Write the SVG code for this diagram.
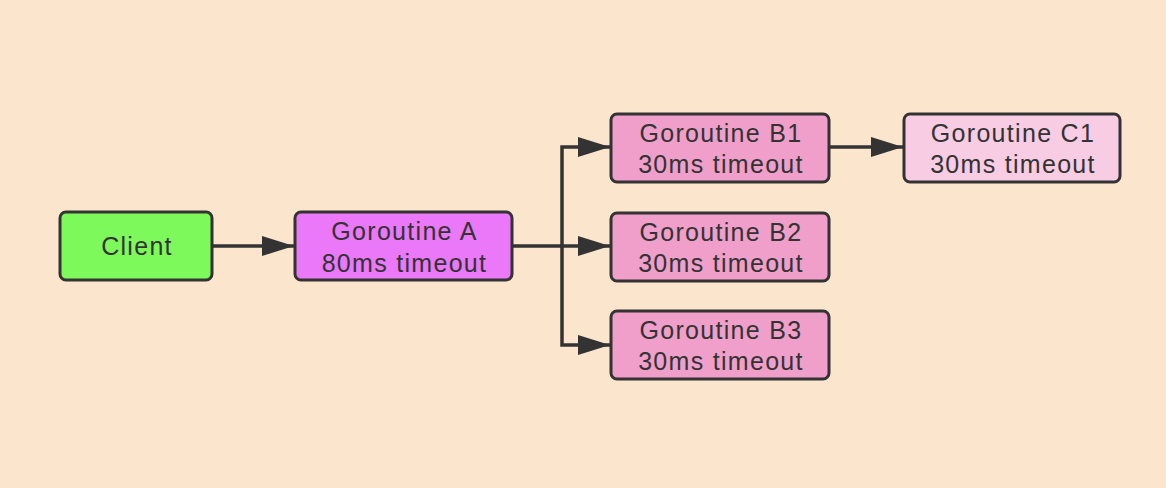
<svg xmlns="http://www.w3.org/2000/svg" width="1166" height="488" viewBox="0 0 1166 488">
<defs>
<style>
.box{stroke:#333;stroke-width:3}
.t{font-family:"Liberation Sans",Arial,sans-serif;font-size:25px;letter-spacing:1.3px;fill:#333;text-anchor:middle}
.c{fill:none;stroke:#333;stroke-width:3.5}
</style>
<marker id="ah" markerWidth="32" markerHeight="20" refX="32" refY="10" orient="auto" markerUnits="userSpaceOnUse">
<path d="M0,0 L32,10 L0,20 Z" fill="#333"/>
</marker>
</defs>
<rect width="1166" height="488" fill="#fbe5cd"/>
<g id="connectors">
<line class="c" x1="212" y1="246" x2="294" y2="246" marker-end="url(#ah)"/>
<polyline class="c" points="512,246 562,246 562,147 610,147" marker-end="url(#ah)"/>
<polyline class="c" points="562,246 610,246" marker-end="url(#ah)"/>
<polyline class="c" points="562,246 562,345 610,345" marker-end="url(#ah)"/>
<line class="c" x1="829" y1="147" x2="903" y2="147" marker-end="url(#ah)"/>
</g>
<g id="client">
<rect class="box" x="60" y="212" width="152" height="68" rx="6" fill="#7ef95c"/>
<text class="t" x="137" y="255">Client</text>
</g>
<g id="goroutineA">
<rect class="box" x="295" y="212" width="217" height="68" rx="6" fill="#ea78f8"/>
<text class="t" x="404.5" y="240">Goroutine A</text>
<text class="t" x="404.5" y="272">80ms timeout</text>
</g>
<g id="goroutineB1">
<rect class="box" x="611" y="114" width="218" height="68" rx="6" fill="#f09fca"/>
<text class="t" x="721" y="142">Goroutine B1</text>
<text class="t" x="721" y="173">30ms timeout</text>
</g>
<g id="goroutineB2">
<rect class="box" x="611" y="213" width="218" height="68" rx="6" fill="#f09fca"/>
<text class="t" x="721" y="241">Goroutine B2</text>
<text class="t" x="721" y="272">30ms timeout</text>
</g>
<g id="goroutineB3">
<rect class="box" x="611" y="311" width="218" height="68" rx="6" fill="#f09fca"/>
<text class="t" x="721" y="339">Goroutine B3</text>
<text class="t" x="721" y="370">30ms timeout</text>
</g>
<g id="goroutineC1">
<rect class="box" x="904" y="114" width="216" height="68" rx="6" fill="#f8cde3"/>
<text class="t" x="1013" y="142">Goroutine C1</text>
<text class="t" x="1013" y="173">30ms timeout</text>
</g>
</svg>
